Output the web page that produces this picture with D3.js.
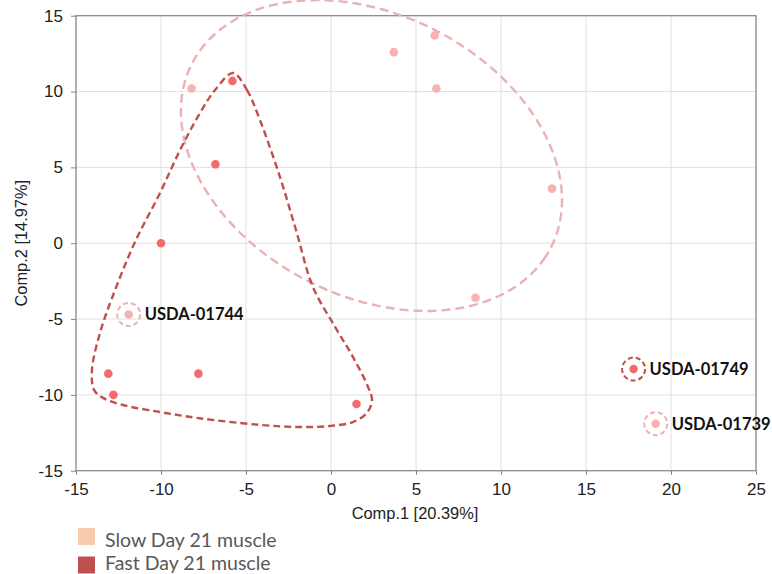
<!DOCTYPE html>
<html>
<head>
<meta charset="utf-8">
<script src="https://cdn.jsdelivr.net/npm/d3@7"></script>
<style>
  body { margin: 0; background: #fff; }
  svg { display: block; }
</style>
</head>
<body>
<div id="chart"></div>
<script>
// sample scores [Comp.1, Comp.2]
const slowPoints = [
  [-8.2, 10.2], [3.7, 12.6], [6.1, 13.7], [6.2, 10.2],
  [13.0, 3.6], [8.5, -3.6], [-11.9, -4.7], [19.1, -11.9]
];
const fastPoints = [
  [-5.8, 10.7], [-6.8, 5.2], [-10.0, 0.0], [-13.1, -8.6],
  [-12.8, -10.0], [-7.8, -8.6], [1.5, -10.6], [17.8, -8.3]
];
const outliers = [
  { name: "USDA-01744", group: "slow", x: -11.9, y: -4.7 },
  { name: "USDA-01749", group: "fast", x: 17.8, y: -8.3 },
  { name: "USDA-01739", group: "slow", x: 19.1, y: -11.9 }
];
// slow group ellipse: centre, semi-axes, rotation (data units, degrees)
const slowEllipse = { cx: 2.38, cy: 5.78, rx: 12.24, ry: 8.99, angle: -36.3 };
// fast group outline, traced clockwise
const fastOutline = [
  [-5.76, 11.22], [-4.94, 10.10], [-4.18, 8.12], [-3.00, 4.36], [-2.06, 0.87],
  [-1.06, -2.89], [0.29, -5.61], [1.29, -7.50], [2.18, -9.48], [2.41, -10.34],
  [2.12, -11.18], [1.29, -11.79], [-0.06, -12.05], [-1.82, -12.12], [-4.18, -11.98],
  [-7.88, -11.52], [-10.06, -11.13], [-12.24, -10.67], [-13.41, -10.20], [-13.94, -9.67],
  [-14.06, -8.36], [-13.59, -5.92], [-12.88, -3.61], [-11.53, 0.08], [-10.06, 3.31],
  [-8.88, 6.14], [-7.71, 8.58], [-6.82, 10.10]
];
const xTicks = [-15, -10, -5, 0, 5, 10, 15, 20, 25];
const yTicks = [-15, -10, -5, 0, 5, 10, 15];
const legendItems = ["Slow Day 21 muscle", "Fast Day 21 muscle"];

const width = 772;
const height = 574;
const margin = { top: 15.7, right: 16, bottom: 103.3, left: 76 };

const colors = {
  slowPoint: "#f9b1b1", fastPoint: "#f46b6b",
  slowLine: "#e9b3b3", fastLine: "#c0504d",
  slowSwatch: "#f8cbad", fastSwatch: "#c0504d"
};

const svg = d3.select("#chart").append("svg")
  .attr("width", width)
  .attr("height", height);

const x = d3.scaleLinear()
  .domain([-15, 25])
  .range([margin.left, width - margin.right]);

const y = d3.scaleLinear()
  .domain([-15, 15])
  .range([height - margin.bottom, margin.top]);

// grid
svg.append("g")
  .selectAll("line")
  .data(xTicks)
  .join("line")
  .attr("x1", d => x(d)).attr("x2", d => x(d))
  .attr("y1", y(-15)).attr("y2", y(15))
  .attr("stroke", "#e0e0e0");

svg.append("g")
  .selectAll("line")
  .data(yTicks)
  .join("line")
  .attr("x1", x(-15)).attr("x2", x(25))
  .attr("y1", d => y(d)).attr("y2", d => y(d))
  .attr("stroke", "#e0e0e0");

svg.append("rect")
  .attr("x", x(-15))
  .attr("y", y(15))
  .attr("width", x(25) - x(-15))
  .attr("height", y(-15) - y(15))
  .attr("fill", "none")
  .attr("stroke", "#858585")
  .attr("stroke-width", 1.2);

const xAxis = svg.append("g")
  .attr("transform", `translate(0,${y(-15)})`)
  .call(d3.axisBottom(x).tickValues(xTicks).tickSize(4).tickPadding(8).tickFormat(d => String(d)));

const yAxis = svg.append("g")
  .attr("transform", `translate(${x(-15)},0)`)
  .call(d3.axisLeft(y).tickValues(yTicks).tickSize(5).tickPadding(8).tickFormat(d => String(d)));

[xAxis, yAxis].forEach(g => {
  g.select(".domain").remove();
  g.selectAll(".tick line").attr("stroke", "#858585");
  g.selectAll(".tick text")
    .attr("fill", "#222")
    .style("font-family", "'Liberation Sans', Arial, sans-serif")
    .style("font-size", "17px");
});

svg.append("text")
  .attr("x", 415)
  .attr("y", 519)
  .attr("text-anchor", "middle")
  .attr("fill", "#222")
  .style("font-family", "'Liberation Sans', Arial, sans-serif")
  .style("font-size", "16.4px")
  .text("Comp.1 [20.39%]");

svg.append("text")
  .attr("transform", `translate(27,${y(0)}) rotate(-90)`)
  .attr("text-anchor", "middle")
  .attr("fill", "#222")
  .style("font-family", "'Liberation Sans', Arial, sans-serif")
  .style("font-size", "16.4px")
  .text("Comp.2 [14.97%]");

// slow ellipse
const a = slowEllipse.angle * Math.PI / 180;
const ellipsePts = d3.range(0, 361, 3).map(deg => {
  const t = deg * Math.PI / 180;
  const ex = slowEllipse.rx * Math.cos(t), ey = slowEllipse.ry * Math.sin(t);
  return [slowEllipse.cx + ex * Math.cos(a) - ey * Math.sin(a),
          slowEllipse.cy + ex * Math.sin(a) + ey * Math.cos(a)];
});

svg.append("path")
  .datum(ellipsePts)
  .attr("fill", "none")
  .attr("stroke", colors.slowLine)
  .attr("stroke-width", 2.4)
  .attr("stroke-dasharray", "9,5")
  .attr("d", d3.line().x(d => x(d[0])).y(d => y(d[1])).curve(d3.curveCatmullRomClosed));

svg.append("path")
  .datum(fastOutline)
  .attr("fill", "none")
  .attr("stroke", colors.fastLine)
  .attr("stroke-width", 2.4)
  .attr("stroke-dasharray", "7,4")
  .attr("d", d3.line().x(d => x(d[0])).y(d => y(d[1])).curve(d3.curveCatmullRomClosed));

svg.append("g")
  .selectAll("circle")
  .data(slowPoints)
  .join("circle")
  .attr("cx", d => x(d[0]))
  .attr("cy", d => y(d[1]))
  .attr("r", 4.3)
  .attr("fill", colors.slowPoint);

svg.append("g")
  .selectAll("circle")
  .data(fastPoints)
  .join("circle")
  .attr("cx", d => x(d[0]))
  .attr("cy", d => y(d[1]))
  .attr("r", 4.3)
  .attr("fill", colors.fastPoint);

const marks = svg.append("g")
  .selectAll("g")
  .data(outliers)
  .join("g")
  .attr("transform", d => `translate(${x(d.x)},${y(d.y)})`);

marks.append("circle")
  .attr("r", 11.5)
  .attr("fill", "none")
  .attr("stroke", d => d.group === "fast" ? colors.fastLine : colors.slowLine)
  .attr("stroke-width", 2)
  .attr("stroke-dasharray", "5,3");

marks.append("text")
  .attr("x", 16)
  .attr("dy", "0.36em")
  .attr("fill", "#111")
  .style("font-family", "Lato, sans-serif")
  .style("font-weight", "bold")
  .style("font-size", "16.5px")
  .text(d => d.name);

// legend
const legend = svg.append("g")
  .selectAll("g")
  .data(legendItems)
  .join("g")
  .attr("transform", (d, i) => `translate(78,${528 + i * 28.5})`);

legend.append("rect")
  .attr("width", 17)
  .attr("height", 17)
  .attr("fill", (d, i) => i === 0 ? colors.slowSwatch : colors.fastSwatch);

legend.append("text")
  .attr("x", 27)
  .attr("y", (d, i) => i === 0 ? 18.5 : 13.5)
  .attr("fill", "#595959")
  .style("font-family", "Lato, sans-serif")
  .style("font-size", "19.5px")
  .text(d => d);
</script>
</body>
</html>
